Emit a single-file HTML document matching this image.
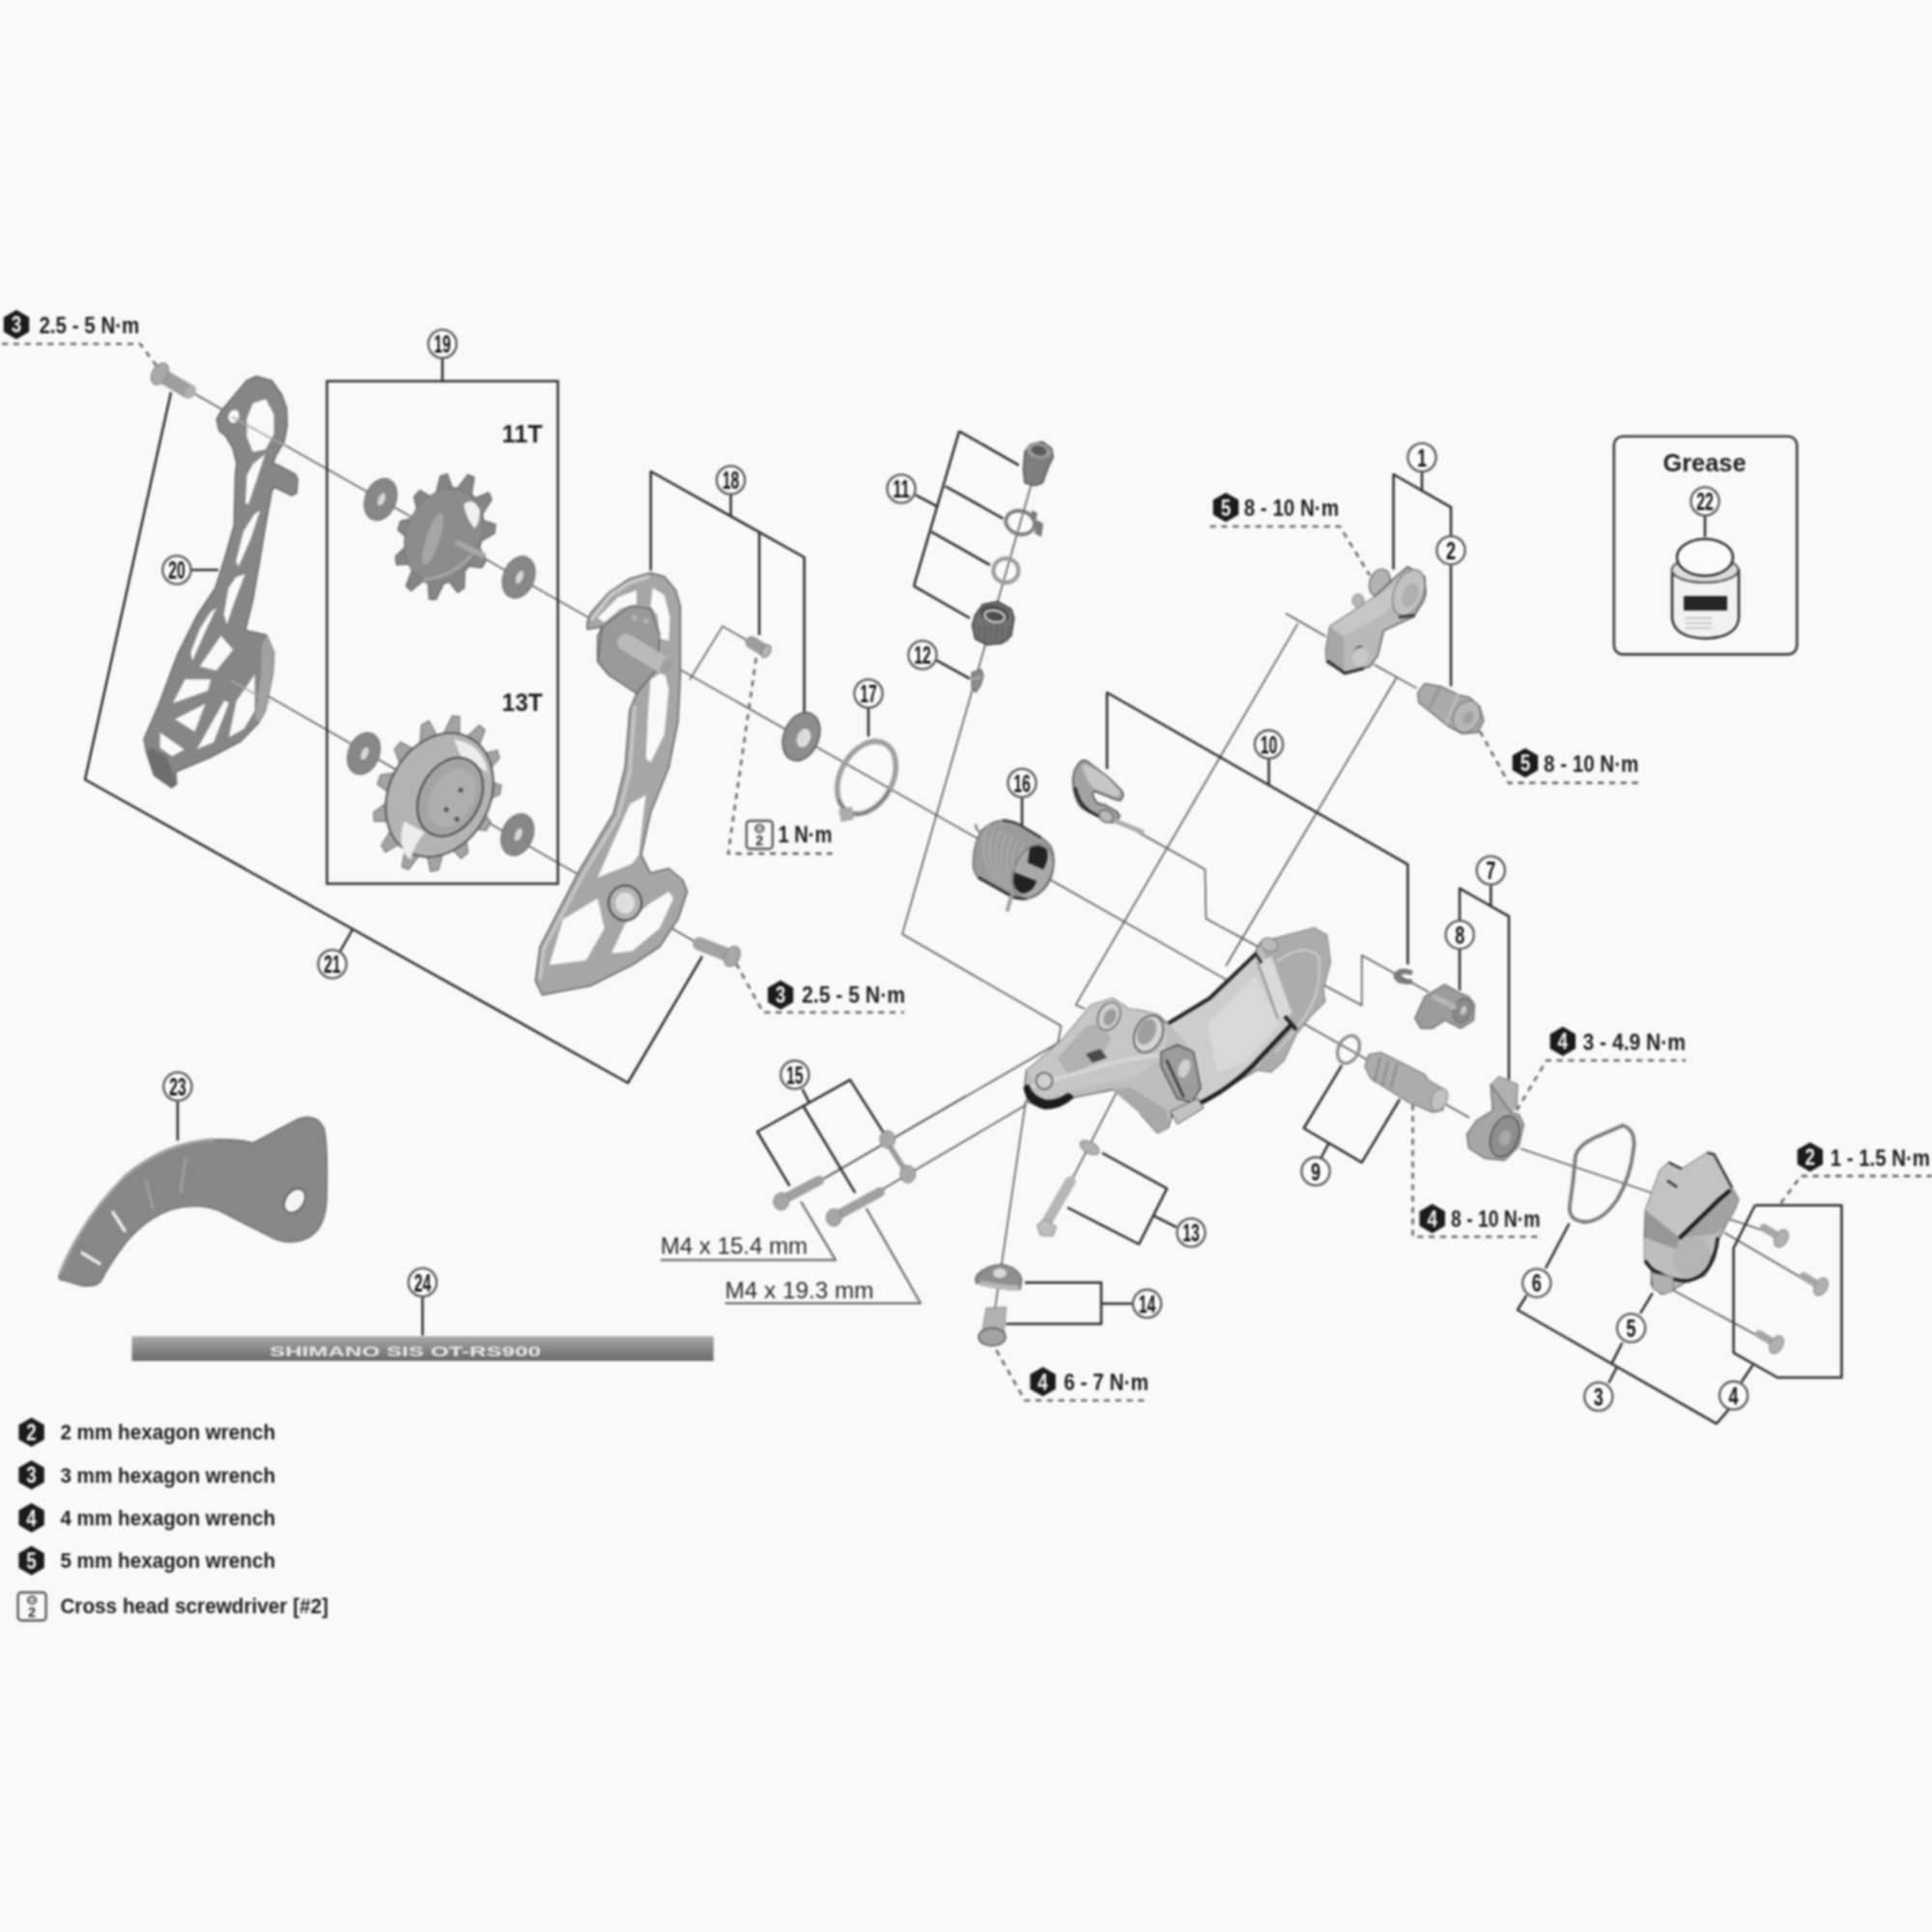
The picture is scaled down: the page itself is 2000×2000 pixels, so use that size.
<!DOCTYPE html>
<html><head><meta charset="utf-8"><title>Rear derailleur exploded view</title>
<style>html,body{margin:0;padding:0;background:#f9f9f9;}svg{display:block;filter:blur(0.8px);}text{font-family:"Liberation Sans",sans-serif;}</style>
</head><body>
<svg width="2000" height="2000" viewBox="0 0 2000 2000">
<rect x="0" y="0" width="2000" height="2000" fill="#f9f9f9"/>
<polyline points="202.0,408.0 1521.0,1157.0" fill="none" stroke="#5a5a5a" stroke-width="1.6" stroke-linejoin="round" />
<polyline points="1574.0,1189.0 1826.0,1274.0" fill="none" stroke="#5a5a5a" stroke-width="1.6" stroke-linejoin="round" />
<polyline points="1785.0,1276.0 1867.0,1324.0" fill="none" stroke="#5a5a5a" stroke-width="1.6" stroke-linejoin="round" />
<polyline points="1729.0,1334.0 1820.0,1383.0" fill="none" stroke="#5a5a5a" stroke-width="1.6" stroke-linejoin="round" />
<polyline points="240.0,699.0 725.0,978.0" fill="none" stroke="#5a5a5a" stroke-width="1.6" stroke-linejoin="round" />
<polyline points="1068.0,500.0 934.0,967.0 1098.5,1062.0 1095.0,1080.0 851.8,1220.8" fill="none" stroke="#5a5a5a" stroke-width="1.6" stroke-linejoin="round" />
<polyline points="913.4,1231.3 1062.6,1143.5" fill="none" stroke="#5a5a5a" stroke-width="1.6" stroke-linejoin="round" />
<polyline points="1062.0,1139.0 1030.0,1355.0" fill="none" stroke="#5a5a5a" stroke-width="1.6" stroke-linejoin="round" />
<polyline points="1156.0,1130.4 1110.4,1219.6" fill="none" stroke="#5a5a5a" stroke-width="1.6" stroke-linejoin="round" />
<polyline points="714.0,703.7 748.0,648.4 773.7,663.0" fill="none" stroke="#5a5a5a" stroke-width="1.6" stroke-linejoin="round" />
<polyline points="1163.0,853.0 1247.4,900.0 1248.5,951.0 1306.0,982.0" fill="none" stroke="#5a5a5a" stroke-width="1.6" stroke-linejoin="round" />
<polyline points="1369.0,1019.0 1409.7,1040.8 1409.7,989.0 1479.0,1027.0" fill="none" stroke="#5a5a5a" stroke-width="1.6" stroke-linejoin="round" />
<polyline points="1331.0,635.0 1372.5,658.8" fill="none" stroke="#5a5a5a" stroke-width="1.6" stroke-linejoin="round" />
<polyline points="1343.6,645.3 1113.7,1040.2 1123.5,1044.6" fill="none" stroke="#5a5a5a" stroke-width="1.6" stroke-linejoin="round" />
<polyline points="1446.0,701.0 1269.0,1000.0" fill="none" stroke="#5a5a5a" stroke-width="1.6" stroke-linejoin="round" />
<polyline points="1422.0,687.8 1466.8,712.6" fill="none" stroke="#5a5a5a" stroke-width="1.6" stroke-linejoin="round" />
<polyline points="851.8,1220.8 1000.0,1134.5" fill="none" stroke="#5a5a5a" stroke-width="1.6" stroke-linejoin="round" />
<polyline points="177.0,406.0 88.0,807.0 650.0,1121.0 727.0,990.0" fill="none" stroke="#2c2c2c" stroke-width="2.5" stroke-linejoin="round" />
<polyline points="197.0,590.0 226.0,590.0" fill="none" stroke="#2c2c2c" stroke-width="2.5" stroke-linejoin="round" />
<polyline points="352.0,985.0 365.0,962.0" fill="none" stroke="#2c2c2c" stroke-width="2.5" stroke-linejoin="round" />
<rect x="338.5" y="394.6" width="239" height="520.2" fill="none" stroke="#383838" stroke-width="2.6"/>
<polyline points="458.0,371.0 458.0,394.6" fill="none" stroke="#2c2c2c" stroke-width="2.5" stroke-linejoin="round" />
<polyline points="673.7,590.5 673.7,488.0 832.6,577.0 832.6,741.7" fill="none" stroke="#2c2c2c" stroke-width="2.5" stroke-linejoin="round" />
<polyline points="786.0,551.0 786.0,657.5" fill="none" stroke="#2c2c2c" stroke-width="2.5" stroke-linejoin="round" />
<polyline points="756.5,511.7 756.5,534.0" fill="none" stroke="#2c2c2c" stroke-width="2.5" stroke-linejoin="round" />
<polyline points="899.0,733.0 899.0,762.5" fill="none" stroke="#2c2c2c" stroke-width="2.5" stroke-linejoin="round" />
<polyline points="993.0,446.3 946.0,606.6" fill="none" stroke="#2c2c2c" stroke-width="2.5" stroke-linejoin="round" />
<polyline points="993.0,446.3 1054.7,481.6" fill="none" stroke="#2c2c2c" stroke-width="2.5" stroke-linejoin="round" />
<polyline points="978.6,503.3 1038.4,536.8" fill="none" stroke="#2c2c2c" stroke-width="2.5" stroke-linejoin="round" />
<polyline points="964.0,550.4 1024.8,584.9" fill="none" stroke="#2c2c2c" stroke-width="2.5" stroke-linejoin="round" />
<polyline points="946.0,606.6 1004.0,640.0" fill="none" stroke="#2c2c2c" stroke-width="2.5" stroke-linejoin="round" />
<polyline points="947.8,512.4 970.0,524.2" fill="none" stroke="#2c2c2c" stroke-width="2.5" stroke-linejoin="round" />
<polyline points="969.6,683.6 1004.0,702.6" fill="none" stroke="#2c2c2c" stroke-width="2.5" stroke-linejoin="round" />
<polyline points="1058.0,825.0 1058.0,855.8" fill="none" stroke="#2c2c2c" stroke-width="2.5" stroke-linejoin="round" />
<polyline points="1146.0,796.0 1146.0,717.0 1457.3,894.8 1457.3,998.4" fill="none" stroke="#2c2c2c" stroke-width="2.5" stroke-linejoin="round" />
<polyline points="1313.5,786.0 1313.5,812.0" fill="none" stroke="#2c2c2c" stroke-width="2.5" stroke-linejoin="round" />
<polyline points="1442.5,589.4 1442.5,491.0 1502.0,525.2 1502.0,555.3" fill="none" stroke="#2c2c2c" stroke-width="2.5" stroke-linejoin="round" />
<polyline points="1502.0,585.3 1502.0,710.5" fill="none" stroke="#2c2c2c" stroke-width="2.5" stroke-linejoin="round" />
<polyline points="1472.0,489.0 1472.0,507.6" fill="none" stroke="#2c2c2c" stroke-width="2.5" stroke-linejoin="round" />
<polyline points="1511.0,1025.3 1511.0,982.8" fill="none" stroke="#2c2c2c" stroke-width="2.5" stroke-linejoin="round" />
<polyline points="1511.0,952.8 1511.0,919.7 1562.0,948.7 1562.0,1117.4" fill="none" stroke="#2c2c2c" stroke-width="2.5" stroke-linejoin="round" />
<polyline points="1543.3,916.6 1543.3,937.0" fill="none" stroke="#2c2c2c" stroke-width="2.5" stroke-linejoin="round" />
<polyline points="1389.0,1102.9 1349.7,1168.0 1409.7,1203.3 1449.0,1138.0" fill="none" stroke="#2c2c2c" stroke-width="2.5" stroke-linejoin="round" />
<polyline points="1375.5,1183.7 1367.3,1199.0" fill="none" stroke="#2c2c2c" stroke-width="2.5" stroke-linejoin="round" />
<polyline points="1580.3,1341.0 1571.0,1356.0 1777.0,1473.8 1790.0,1458.6" fill="none" stroke="#2c2c2c" stroke-width="2.5" stroke-linejoin="round" />
<polyline points="1600.0,1313.0 1624.5,1266.5" fill="none" stroke="#2c2c2c" stroke-width="2.5" stroke-linejoin="round" />
<polyline points="1698.0,1359.6 1710.7,1338.7" fill="none" stroke="#2c2c2c" stroke-width="2.5" stroke-linejoin="round" />
<polyline points="1679.3,1390.0 1668.8,1410.9" fill="none" stroke="#2c2c2c" stroke-width="2.5" stroke-linejoin="round" />
<polyline points="1665.3,1431.8 1673.4,1416.0" fill="none" stroke="#2c2c2c" stroke-width="2.5" stroke-linejoin="round" />
<polyline points="1802.7,1430.7 1814.4,1413.2" fill="none" stroke="#2c2c2c" stroke-width="2.5" stroke-linejoin="round" />
<polyline points="1816.7,1247.8 1906.4,1247.8 1906.4,1426.0 1840.0,1426.0 1794.6,1400.4 1794.6,1292.0 1816.7,1247.8" fill="none" stroke="#2c2c2c" stroke-width="2.5" stroke-linejoin="round" />
<polyline points="1140.9,1193.5 1208.0,1230.4 1179.0,1288.0 1105.0,1250.0" fill="none" stroke="#2c2c2c" stroke-width="2.5" stroke-linejoin="round" />
<polyline points="1194.5,1258.7 1217.8,1270.4" fill="none" stroke="#2c2c2c" stroke-width="2.5" stroke-linejoin="round" />
<polyline points="1061.0,1327.8 1140.0,1327.8 1140.0,1370.5 1041.5,1370.5" fill="none" stroke="#2c2c2c" stroke-width="2.5" stroke-linejoin="round" />
<polyline points="1140.0,1349.6 1172.5,1349.6" fill="none" stroke="#2c2c2c" stroke-width="2.5" stroke-linejoin="round" />
<polyline points="817.5,1227.8 784.0,1171.5 880.0,1117.8 915.2,1173.3" fill="none" stroke="#2c2c2c" stroke-width="2.5" stroke-linejoin="round" />
<polyline points="831.6,1145.0 885.3,1234.9" fill="none" stroke="#2c2c2c" stroke-width="2.5" stroke-linejoin="round" />
<polyline points="830.7,1127.5 837.7,1141.6" fill="none" stroke="#2c2c2c" stroke-width="2.5" stroke-linejoin="round" />
<polyline points="183.9,1140.4 183.9,1180.7" fill="none" stroke="#2c2c2c" stroke-width="2.5" stroke-linejoin="round" />
<polyline points="437.4,1342.5 437.4,1382.6" fill="none" stroke="#2c2c2c" stroke-width="2.5" stroke-linejoin="round" />
<polyline points="1765.0,533.5 1765.0,556.0" fill="none" stroke="#2c2c2c" stroke-width="2.5" stroke-linejoin="round" />
<polyline points="683.8,1304.4 865.0,1304.4 829.0,1243.7" fill="none" stroke="#6a6a6a" stroke-width="2.2" stroke-linejoin="round" />
<polyline points="750.6,1349.2 953.0,1349.2 896.7,1250.7" fill="none" stroke="#6a6a6a" stroke-width="2.2" stroke-linejoin="round" />
<rect x="1670.8" y="451.7" width="189.4" height="225.7" rx="9" fill="none" stroke="#3a3a3a" stroke-width="2.6"/>
<polyline points="2.0,356.0 145.0,356.0 163.0,380.0" fill="none" stroke="#6a6a6a" stroke-width="2.6" stroke-linejoin="round" stroke-dasharray="6.2 5.6"/>
<polyline points="782.8,681.0 753.8,883.6 861.6,883.6" fill="none" stroke="#6a6a6a" stroke-width="2.6" stroke-linejoin="round" stroke-dasharray="6.2 5.6"/>
<polyline points="762.0,997.4 790.0,1048.0 936.0,1048.0" fill="none" stroke="#6a6a6a" stroke-width="2.6" stroke-linejoin="round" stroke-dasharray="6.2 5.6"/>
<polyline points="1252.5,545.0 1387.0,545.0 1418.0,595.6" fill="none" stroke="#6a6a6a" stroke-width="2.6" stroke-linejoin="round" stroke-dasharray="6.2 5.6"/>
<polyline points="1532.0,757.0 1561.7,810.4 1696.0,810.4" fill="none" stroke="#6a6a6a" stroke-width="2.6" stroke-linejoin="round" stroke-dasharray="6.2 5.6"/>
<polyline points="1570.0,1149.5 1601.0,1097.7 1745.0,1097.7" fill="none" stroke="#6a6a6a" stroke-width="2.6" stroke-linejoin="round" stroke-dasharray="6.2 5.6"/>
<polyline points="1462.5,1143.3 1462.5,1280.2 1594.5,1280.2" fill="none" stroke="#6a6a6a" stroke-width="2.6" stroke-linejoin="round" stroke-dasharray="6.2 5.6"/>
<polyline points="1843.5,1245.5 1864.4,1217.4 2000.0,1217.4" fill="none" stroke="#6a6a6a" stroke-width="2.6" stroke-linejoin="round" stroke-dasharray="6.2 5.6"/>
<polyline points="1031.4,1397.7 1061.0,1449.7 1189.0,1449.7" fill="none" stroke="#6a6a6a" stroke-width="2.6" stroke-linejoin="round" stroke-dasharray="6.2 5.6"/>
<line x1="171.0" y1="391.0" x2="195.0" y2="405.0" stroke="#9e9e9e" stroke-width="15.0" stroke-linecap="round"/>
<ellipse cx="197.0" cy="405.5" rx="5.0" ry="7.5" transform="rotate(30.0 197.0 405.5)" fill="#b0b0b0" stroke="none" stroke-width="0" />
<ellipse cx="165.5" cy="387.0" rx="8.0" ry="12.0" transform="rotate(30.0 165.5 387.0)" fill="#a8a8a8" stroke="#8c8c8c" stroke-width="1.2" />
<polygon points="265.6,389.5 281.2,394.0 291.5,408.2 296.7,422.5 297.3,440.6 294.1,457.4 286.3,470.3 282.5,479.4 286.3,480.7 305.7,491.0 308.3,496.2 307.0,510.5 301.9,513.0 283.7,504.0 281.2,509.0 276.0,537.6 269.5,576.5 262.0,620.0 254.0,652.5 276.0,657.6 283.7,675.8 282.5,696.5 274.7,735.3 268.0,748.0 249.0,767.6 216.5,784.5 182.0,799.0 182.8,811.6 177.6,815.5 159.5,802.6 151.8,779.3 149.0,765.0 164.7,728.8 184.0,677.0 203.5,638.0 223.0,608.5 232.0,580.0 242.3,544.0 243.6,492.3 244.9,479.4 241.0,463.9 233.3,451.0 226.8,445.8 224.2,434.0 229.4,425.0 242.3,409.5 255.3,394.0" fill="#868686" stroke="#6c6c6c" stroke-width="1.5" stroke-linejoin="round" />
<polygon points="275.1,413.0 283.6,428.9 283.6,449.2 275.1,465.2 261.7,468.1 255.5,452.2 255.5,433.3 261.7,417.5" fill="#f9f9f9" stroke="none" stroke-width="0" stroke-linejoin="round" />
<polygon points="274.5,470.1 265.0,499.0 257.1,522.2 254.0,520.7 255.6,491.7 261.9,480.2" fill="#f9f9f9" stroke="none" stroke-width="0" stroke-linejoin="round" />
<polygon points="269.3,528.2 259.9,557.1 247.2,586.1 244.1,581.8 252.0,550.0 263.1,532.5" fill="#f9f9f9" stroke="none" stroke-width="0" stroke-linejoin="round" />
<polygon points="253.8,594.3 242.7,623.3 234.9,646.5 231.7,636.3 236.4,608.8 244.3,597.2" fill="#f9f9f9" stroke="none" stroke-width="0" stroke-linejoin="round" />
<polygon points="224.2,629.1 213.2,652.3 199.1,684.2 197.4,675.5 206.9,650.8 218.0,633.4" fill="#f9f9f9" stroke="none" stroke-width="0" stroke-linejoin="round" />
<polygon points="228.7,658.0 241.4,672.5 224.0,694.3 206.7,689.9" fill="#f9f9f9" stroke="none" stroke-width="0" stroke-linejoin="round" />
<polygon points="191.5,703.2 218.3,703.2 215.2,714.9 178.8,727.9" fill="#f9f9f9" stroke="none" stroke-width="0" stroke-linejoin="round" />
<polygon points="181.0,744.4 212.6,728.5 201.6,757.5" fill="#f9f9f9" stroke="none" stroke-width="0" stroke-linejoin="round" />
<polygon points="165.6,758.3 190.8,775.7 178.2,783.0 165.6,774.3" fill="#f9f9f9" stroke="none" stroke-width="0" stroke-linejoin="round" />
<polygon points="232.3,724.9 203.8,775.6 221.2,768.4 237.0,727.8" fill="#f9f9f9" stroke="none" stroke-width="0" stroke-linejoin="round" />
<polygon points="263.8,698.1 263.8,735.8 252.6,754.6 236.9,763.3 244.7,725.6 255.8,709.7" fill="#f9f9f9" stroke="none" stroke-width="0" stroke-linejoin="round" />
<ellipse cx="242.0" cy="431.0" rx="5.5" ry="7.0" transform="rotate(20.0 242.0 431.0)" fill="#f9f9f9" stroke="none" stroke-width="0" />
<polygon points="276.0,657.6 283.7,675.8 282.5,696.5 274.7,735.3 268.0,748.0 264.0,744.0 270.0,700.0 271.0,668.0" fill="#a2a2a2" stroke="none" stroke-width="0" stroke-linejoin="round" />
<line x1="241.0" y1="432.0" x2="296.0" y2="462.0" stroke="#a9a9a9" stroke-width="1.8" stroke-linecap="round"/>
<line x1="240.0" y1="705.0" x2="279.0" y2="727.0" stroke="#a9a9a9" stroke-width="1.8" stroke-linecap="round"/>
<polygon points="151.8,779.3 157.0,774.1 172.5,783.2 182.8,811.6 177.6,815.5 159.5,802.6" fill="#6e6e6e" stroke="none" stroke-width="0" stroke-linejoin="round" />
<ellipse cx="394.0" cy="517.0" rx="16.0" ry="22.5" transform="rotate(22.0 394.0 517.0)" fill="#878787" stroke="#6f6f6f" stroke-width="1" />
<ellipse cx="395.0" cy="517.0" rx="3.5" ry="7.0" transform="rotate(22.0 395.0 517.0)" fill="#d6d6d6" stroke="none" stroke-width="0" />
<ellipse cx="537.0" cy="597.5" rx="16.0" ry="22.5" transform="rotate(22.0 537.0 597.5)" fill="#878787" stroke="#6f6f6f" stroke-width="1" />
<ellipse cx="538.0" cy="597.5" rx="3.5" ry="7.0" transform="rotate(22.0 538.0 597.5)" fill="#d6d6d6" stroke="none" stroke-width="0" />
<ellipse cx="376.6" cy="780.0" rx="16.0" ry="22.5" transform="rotate(22.0 376.6 780.0)" fill="#878787" stroke="#6f6f6f" stroke-width="1" />
<ellipse cx="377.6" cy="780.0" rx="3.5" ry="7.0" transform="rotate(22.0 377.6 780.0)" fill="#d6d6d6" stroke="none" stroke-width="0" />
<ellipse cx="535.7" cy="864.0" rx="16.0" ry="22.5" transform="rotate(22.0 535.7 864.0)" fill="#878787" stroke="#6f6f6f" stroke-width="1" />
<ellipse cx="536.7" cy="864.0" rx="3.5" ry="7.0" transform="rotate(22.0 536.7 864.0)" fill="#d6d6d6" stroke="none" stroke-width="0" />
<polygon points="503.6,579.5 498.9,588.0 485.8,586.1 481.2,591.4 480.7,608.6 473.6,613.4 465.1,602.5 459.4,604.3 451.5,620.6 444.3,620.4 443.0,603.8 438.2,601.6 425.4,611.8 420.3,606.5 426.7,589.6 424.2,584.0 410.5,585.0 409.2,576.3 421.2,564.4 421.9,557.3 411.7,548.6 414.6,539.4 428.4,536.2 432.0,529.8 428.5,514.3 434.6,507.4 445.9,514.0 451.3,510.3 455.7,492.9 463.1,490.5 468.2,504.8 473.7,505.0 484.5,491.2 490.9,494.1 488.3,511.6 492.1,515.6 505.9,509.8 509.2,517.0 499.6,532.1 500.6,538.7 513.0,542.7 512.2,552.0 498.7,559.9 496.5,566.9" fill="#858585" stroke="#6a6a6a" stroke-width="1.2" stroke-linejoin="round" />
<ellipse cx="459.0" cy="554.0" rx="38.0" ry="50.0" transform="rotate(25.0 459.0 554.0)" fill="#8c8c8c" stroke="#787878" stroke-width="1" />
<ellipse cx="448.0" cy="558.0" rx="7.0" ry="28.0" transform="rotate(18.0 448.0 558.0)" fill="#a6a6a6" stroke="none" stroke-width="0" />
<path d="M480,522 Q490,514 497,528 Q497,542 491,547 Q482,536 480,522 Z" fill="#f0f0f0" stroke="none" stroke-width="0" stroke-linejoin="round" />
<path d="M438,600 Q470,598 492,570" fill="none" stroke="#a4a4a4" stroke-width="3" stroke-linejoin="round" />
<line x1="474.0" y1="562.0" x2="500.0" y2="575.0" stroke="#a6a6a6" stroke-width="6.0" stroke-linecap="round"/>
<polygon points="508.0,851.1 503.2,860.0 487.0,857.3 482.2,863.1 484.5,882.8 477.3,888.8 465.7,876.7 459.7,879.7 453.8,900.6 445.8,902.3 441.5,883.6 435.7,883.1 422.9,900.3 416.0,897.4 420.0,876.3 415.6,872.5 398.9,882.2 394.7,875.2 406.0,856.7 404.1,850.3 387.3,850.2 386.7,840.9 402.8,829.1 403.8,821.6 390.7,811.8 393.9,802.2 411.1,799.8 414.8,793.1 408.4,775.7 414.7,768.1 429.0,775.7 434.5,771.1 436.3,750.2 444.2,746.3 452.4,762.1 458.5,760.8 468.1,741.2 475.7,741.9 475.9,762.3 481.2,764.6 496.3,750.7 502.1,755.8 494.2,776.2 497.4,781.4 514.7,776.5 517.1,784.9 503.0,800.5 503.5,807.6 518.9,812.7 517.5,822.5 500.4,829.8 498.0,837.1" fill="#a3a3a3" stroke="#7a7a7a" stroke-width="1.2" stroke-linejoin="round" />
<ellipse cx="455.0" cy="823.0" rx="52.0" ry="67.0" transform="rotate(28.0 455.0 823.0)" fill="#b3b3b3" stroke="#5a5a5a" stroke-width="2" />
<path d="M470,765 Q500,770 505,800 Q490,790 478,786 Z" fill="#ececec" stroke="none" stroke-width="0" stroke-linejoin="round" />
<path d="M418,850 Q410,880 425,890 Q430,872 440,862 Z" fill="#ececec" stroke="none" stroke-width="0" stroke-linejoin="round" />
<ellipse cx="466.0" cy="825.0" rx="31.0" ry="43.0" transform="rotate(28.0 466.0 825.0)" fill="#a4a4a4" stroke="#4e4e4e" stroke-width="2" />
<ellipse cx="468.0" cy="826.0" rx="22.0" ry="32.0" transform="rotate(28.0 468.0 826.0)" fill="#afafaf" stroke="none" stroke-width="0" />
<ellipse cx="477.0" cy="818.0" rx="2.5" ry="2.5" transform="rotate(0.0 477.0 818.0)" fill="#555" stroke="none" stroke-width="0" />
<ellipse cx="462.0" cy="838.0" rx="2.5" ry="2.5" transform="rotate(0.0 462.0 838.0)" fill="#555" stroke="none" stroke-width="0" />
<ellipse cx="473.0" cy="848.0" rx="2.5" ry="2.5" transform="rotate(0.0 473.0 848.0)" fill="#555" stroke="none" stroke-width="0" />
<polygon points="607.9,644.3 611.4,634.8 630.5,613.3 651.9,599.0 673.3,593.1 687.6,596.7 699.5,611.0 704.3,627.6 704.3,699.0 701.9,746.7 692.4,794.3 673.3,842.0 663.8,884.8 673.3,903.8 692.4,899.0 706.7,911.0 711.4,922.9 701.9,951.4 682.9,980.0 654.3,999.0 611.4,1020.5 561.4,1030.0 554.3,1015.7 559.0,980.0 599.5,901.4 635.2,841.9 647.1,794.3 651.9,734.8 659.0,718.0 651.9,711.0 630.5,699.0 618.6,684.8 618.6,658.6 623.3,649.0 607.9,651.4" fill="#a6a6a6" stroke="#6a6a6a" stroke-width="1.6" stroke-linejoin="round" />
<polygon points="675.7,608.6 687.6,615.7 693.6,639.5 692.4,663.3 682.9,661.0 680.5,637.0 673.3,627.6" fill="#f9f9f9" stroke="none" stroke-width="0" stroke-linejoin="round" />
<polygon points="618.6,639.5 640.0,618.0 659.0,611.0 659.0,625.2 642.4,630.0 625.7,644.3" fill="#f9f9f9" stroke="none" stroke-width="0" stroke-linejoin="round" />
<polygon points="673.3,703.8 687.6,694.3 692.4,713.3 687.6,761.0 673.3,789.5 668.6,784.8 671.0,734.8" fill="#f9f9f9" stroke="none" stroke-width="0" stroke-linejoin="round" />
<polygon points="668.6,822.9 651.9,832.4 618.6,908.6 654.3,894.3 661.4,884.8 666.2,842.0" fill="#f9f9f9" stroke="none" stroke-width="0" stroke-linejoin="round" />
<polygon points="618.6,930.0 582.9,951.4 568.6,999.0 606.7,994.3 625.7,961.0" fill="#f9f9f9" stroke="none" stroke-width="0" stroke-linejoin="round" />
<polygon points="692.4,922.9 697.1,930.0 682.9,961.0 654.3,984.8 632.9,987.1 647.1,956.2 673.3,934.8" fill="#f9f9f9" stroke="none" stroke-width="0" stroke-linejoin="round" />
<polyline points="612.0,642.0 632.0,616.0 652.0,603.0 672.0,597.0" fill="none" stroke="#c9c9c9" stroke-width="4" stroke-linejoin="round" />
<polyline points="657.0,730.0 652.0,800.0 640.0,845.0 604.0,905.0 563.0,982.0 559.0,1014.0" fill="none" stroke="#c4c4c4" stroke-width="4" stroke-linejoin="round" />
<polygon points="623.3,649.0 651.9,627.6 673.3,630.0 682.9,656.2 680.5,691.9 659.0,718.0 630.5,699.0 618.6,684.8" fill="#999999" stroke="#5e5e5e" stroke-width="1.2" stroke-linejoin="round" />
<ellipse cx="656.7" cy="639.5" rx="3.0" ry="3.0" transform="rotate(0.0 656.7 639.5)" fill="#b5b5b5" stroke="none" stroke-width="0" />
<ellipse cx="668.6" cy="643.0" rx="3.0" ry="3.0" transform="rotate(0.0 668.6 643.0)" fill="#b5b5b5" stroke="none" stroke-width="0" />
<line x1="648.0" y1="665.0" x2="688.0" y2="689.0" stroke="#bababa" stroke-width="18.0" stroke-linecap="round"/>
<ellipse cx="690.0" cy="690.0" rx="6.0" ry="9.0" transform="rotate(30.0 690.0 690.0)" fill="#a0a0a0" stroke="none" stroke-width="0" />
<ellipse cx="647.1" cy="934.8" rx="17.0" ry="18.0" transform="rotate(0.0 647.1 934.8)" fill="#b3b3b3" stroke="#4e4e4e" stroke-width="2" />
<ellipse cx="647.1" cy="934.8" rx="10.0" ry="11.0" transform="rotate(0.0 647.1 934.8)" fill="#dedede" stroke="none" stroke-width="0" />
<line x1="778.0" y1="665.0" x2="791.0" y2="673.0" stroke="#9d9d9d" stroke-width="13.0" stroke-linecap="round"/>
<ellipse cx="793.0" cy="674.0" rx="4.5" ry="7.0" transform="rotate(30.0 793.0 674.0)" fill="#b4b4b4" stroke="#777" stroke-width="1" />
<ellipse cx="829.5" cy="762.5" rx="18.0" ry="26.0" transform="rotate(22.0 829.5 762.5)" fill="#8d8d8d" stroke="#5a5a5a" stroke-width="1.5" />
<ellipse cx="832.0" cy="764.0" rx="7.0" ry="10.0" transform="rotate(22.0 832.0 764.0)" fill="#dcdcdc" stroke="none" stroke-width="0" />
<ellipse cx="897.0" cy="805.0" rx="27.0" ry="40.0" transform="rotate(28.0 897.0 805.0)" fill="none" stroke="#a0a0a0" stroke-width="5.5" />
<ellipse cx="897.0" cy="805.0" rx="27.0" ry="40.0" transform="rotate(28.0 897.0 805.0)" fill="none" stroke="#5a5a5a" stroke-width="1.2" stroke-dasharray="70 200"/>
<polygon points="868.0,838.0 882.0,835.0 884.0,848.0 871.0,851.0" fill="#aaaaaa" stroke="none" stroke-width="0" stroke-linejoin="round" />
<line x1="724.0" y1="977.0" x2="752.0" y2="988.0" stroke="#a2a2a2" stroke-width="14.0" stroke-linecap="round"/>
<ellipse cx="758.0" cy="990.0" rx="7.5" ry="11.0" transform="rotate(25.0 758.0 990.0)" fill="#a8a8a8" stroke="#888" stroke-width="1.2" />
<polygon points="1060.8,467.3 1067.0,459.5 1079.4,457.2 1088.7,464.2 1090.3,473.5 1085.6,482.8 1079.4,499.9 1071.6,503.0 1060.8,499.9 1059.2,485.9" fill="#7e7e7e" stroke="#4a4a4a" stroke-width="1.2" stroke-linejoin="round" />
<ellipse cx="1075.5" cy="466.5" rx="13.0" ry="8.0" transform="rotate(12.0 1075.5 466.5)" fill="#9c9c9c" stroke="none" stroke-width="0" />
<ellipse cx="1075.5" cy="466.5" rx="8.0" ry="5.0" transform="rotate(12.0 1075.5 466.5)" fill="#5a5a5a" stroke="none" stroke-width="0" />
<ellipse cx="1056.1" cy="541.0" rx="15.0" ry="12.0" transform="rotate(15.0 1056.1 541.0)" fill="none" stroke="#7e7e7e" stroke-width="3.8" />
<polygon points="1068.0,528.0 1074.0,531.0 1072.0,540.0 1067.0,537.0" fill="#7a7a7a" stroke="none" stroke-width="0" stroke-linejoin="round" />
<polygon points="1073.0,538.0 1080.0,542.0 1078.0,556.0 1071.0,552.0" fill="#7a7a7a" stroke="none" stroke-width="0" stroke-linejoin="round" />
<ellipse cx="1041.3" cy="590.7" rx="13.0" ry="12.5" transform="rotate(0.0 1041.3 590.7)" fill="none" stroke="#9c9c9c" stroke-width="4.2" />
<polygon points="1009.5,636.6 1017.3,625.7 1032.8,622.6 1046.8,630.3 1049.9,639.7 1046.8,658.3 1037.5,666.0 1021.9,667.6 1009.5,661.4 1006.4,647.4" fill="#727272" stroke="#3a3a3a" stroke-width="1.4" stroke-linejoin="round" />
<line x1="1014.0" y1="648.0" x2="1013.0" y2="664.0" stroke="#5a5a5a" stroke-width="1.2" stroke-linecap="round"/>
<line x1="1020.0" y1="648.0" x2="1019.0" y2="664.0" stroke="#5a5a5a" stroke-width="1.2" stroke-linecap="round"/>
<line x1="1026.0" y1="648.0" x2="1025.0" y2="664.0" stroke="#5a5a5a" stroke-width="1.2" stroke-linecap="round"/>
<line x1="1032.0" y1="648.0" x2="1031.0" y2="664.0" stroke="#5a5a5a" stroke-width="1.2" stroke-linecap="round"/>
<line x1="1038.0" y1="648.0" x2="1037.0" y2="664.0" stroke="#5a5a5a" stroke-width="1.2" stroke-linecap="round"/>
<line x1="1044.0" y1="648.0" x2="1043.0" y2="664.0" stroke="#5a5a5a" stroke-width="1.2" stroke-linecap="round"/>
<ellipse cx="1029.7" cy="636.0" rx="15.0" ry="9.5" transform="rotate(10.0 1029.7 636.0)" fill="#4e4e4e" stroke="none" stroke-width="0" />
<ellipse cx="1029.7" cy="638.0" rx="10.5" ry="6.0" transform="rotate(10.0 1029.7 638.0)" fill="none" stroke="#cfcfcf" stroke-width="2.2" />
<polygon points="1006.0,696.0 1016.0,693.0 1018.0,700.0 1015.0,710.0 1010.0,717.0 1006.0,712.0" fill="#8a8a8a" stroke="#555" stroke-width="1" stroke-linejoin="round" />
<line x1="1007.0" y1="703.0" x2="1016.0" y2="701.0" stroke="#bbbbbb" stroke-width="1.5" stroke-linecap="round"/>
<path d="M1038,849 Q1048,850 1056,854 L1077.8,867.1 Q1086,872 1088.7,878 Q1092,886 1090.9,896 Q1090,910 1081.4,920 Q1072,930 1063.3,930.1 Q1055,931 1048.8,928.7 L1012.6,908.4 Q1006,902 1007.5,890 Q1008,872 1016,860 Q1025,850 1038,849 Z" fill="#9b9b9b" stroke="#5a5a5a" stroke-width="1.2" stroke-linejoin="round" />
<path d="M1012.6,908.4 L1048.8,928.7 Q1055,931 1063.3,930.1" fill="none" stroke="#2e2e2e" stroke-width="3" stroke-linejoin="round" />
<path d="M1038,849 Q1048,850 1056,854 L1077.8,867.1" fill="none" stroke="#3a3a3a" stroke-width="2.5" stroke-linejoin="round" />
<path d="M1024.0,853.0 Q1010.0,882.0 1030.0,912.0" fill="none" stroke="#b3b3b3" stroke-width="1.3" stroke-linejoin="round" />
<path d="M1030.0,856.3 Q1016.0,885.0 1036.0,915.3" fill="none" stroke="#b3b3b3" stroke-width="1.3" stroke-linejoin="round" />
<path d="M1036.0,859.6 Q1022.0,888.0 1042.0,918.6" fill="none" stroke="#b3b3b3" stroke-width="1.3" stroke-linejoin="round" />
<path d="M1042.0,862.9 Q1028.0,891.0 1048.0,921.9" fill="none" stroke="#b3b3b3" stroke-width="1.3" stroke-linejoin="round" />
<path d="M1048.0,866.2 Q1034.0,894.0 1054.0,925.2" fill="none" stroke="#b3b3b3" stroke-width="1.3" stroke-linejoin="round" />
<path d="M1054.0,869.5 Q1040.0,897.0 1060.0,928.5" fill="none" stroke="#b3b3b3" stroke-width="1.3" stroke-linejoin="round" />
<path d="M1060.0,872.8 Q1046.0,900.0 1066.0,931.8" fill="none" stroke="#b3b3b3" stroke-width="1.3" stroke-linejoin="round" />
<ellipse cx="1069.1" cy="901.9" rx="19.0" ry="29.0" transform="rotate(25.0 1069.1 901.9)" fill="#a9a9a9" stroke="#7a7a7a" stroke-width="1.5" />
<path d="M1066,878 Q1076,872 1084,880 Q1086,890 1080,900 L1064,893 Z" fill="#222" stroke="none" stroke-width="0" stroke-linejoin="round" />
<path d="M1050,903 L1073,912 Q1070,924 1058,925 Q1050,922 1049,912 Z" fill="#222" stroke="none" stroke-width="0" stroke-linejoin="round" />
<line x1="1047.0" y1="928.0" x2="1043.0" y2="942.0" stroke="#a0a0a0" stroke-width="4.0" stroke-linecap="round"/>
<path d="M1016,862 Q1010,860 1010,853" fill="none" stroke="#888" stroke-width="2.5" stroke-linejoin="round" />
<path d="M1122.5,787 Q1127,788 1129.9,791.6 L1147,804.2 L1161.2,818.4 Q1165,824 1159.5,828.7 Q1153,828 1147,824.7 L1132.7,819 Q1129,822 1135.6,831 Q1140,833 1143,832.6 L1156,840 L1159.5,845.2 L1152.6,851.4 Q1148,853 1136.7,845.2 L1127,840.6 Q1118,836 1116.8,832.6 Q1111,824 1110.5,807 Q1112,796 1114.5,793.9 Q1118,787 1122.5,787 Z" fill="#a2a2a2" stroke="#4a4a4a" stroke-width="1.4" stroke-linejoin="round" />
<path d="M1120,792 Q1128,790 1147,805 L1160,819 Q1160,826 1152,824 L1132,816 Q1124,808 1120,792 Z" fill="#c6c6c6" stroke="none" stroke-width="0" stroke-linejoin="round" />
<path d="M1113,815 Q1116,832 1128,840 L1137,845" fill="none" stroke="#262626" stroke-width="3" stroke-linejoin="round" />
<line x1="1150.0" y1="848.0" x2="1182.0" y2="861.0" stroke="#adadad" stroke-width="5.0" stroke-linecap="round"/>
<ellipse cx="1145.0" cy="845.0" rx="8.0" ry="6.0" transform="rotate(30.0 1145.0 845.0)" fill="#b9b9b9" stroke="#555" stroke-width="1.2" />
<ellipse cx="1428.3" cy="603.1" rx="10.4" ry="14.5" transform="rotate(20.0 1428.3 603.1)" fill="#b2b2b2" stroke="#6a6a6a" stroke-width="1.2" />
<polygon points="1376.6,648.7 1422.0,618.6 1444.9,597.0 1457.3,586.6 1474.9,597.0 1476.0,615.0 1473.8,621.8 1463.5,638.3 1432.5,652.8 1426.2,678.7 1418.0,690.0 1393.1,697.3 1373.5,685.9 1372.4,673.5" fill="#b9b9b9" stroke="#555" stroke-width="1.4" stroke-linejoin="round" />
<polygon points="1376.6,648.7 1391.0,659.0 1391.0,697.3 1373.5,686.0 1372.4,673.5" fill="#a6a6a6" stroke="none" stroke-width="0" stroke-linejoin="round" />
<polygon points="1391.0,659.0 1432.5,636.0 1448.0,620.0 1445.0,605.0 1422.0,618.6 1376.6,648.7" fill="#c6c6c6" stroke="none" stroke-width="0" stroke-linejoin="round" />
<ellipse cx="1458.3" cy="613.5" rx="15.0" ry="25.0" transform="rotate(22.0 1458.3 613.5)" fill="#c2c2c2" stroke="#777" stroke-width="1.2" />
<ellipse cx="1460.0" cy="616.0" rx="8.0" ry="13.0" transform="rotate(22.0 1460.0 616.0)" fill="#b0b0b0" stroke="none" stroke-width="0" />
<ellipse cx="1406.0" cy="677.0" rx="5.0" ry="9.0" transform="rotate(20.0 1406.0 677.0)" fill="#5a5a5a" stroke="none" stroke-width="0" />
<ellipse cx="1408.0" cy="680.0" rx="8.0" ry="10.0" transform="rotate(22.0 1408.0 680.0)" fill="#c8c8c8" stroke="none" stroke-width="0" />
<ellipse cx="1405.9" cy="621.8" rx="6.0" ry="7.0" transform="rotate(0.0 1405.9 621.8)" fill="#b4b4b4" stroke="#888" stroke-width="1" />
<polyline points="1374.0,684.0 1392.0,697.0 1412.0,692.0" fill="none" stroke="#2e2e2e" stroke-width="3" stroke-linejoin="round" />
<polyline points="1448.0,639.0 1465.0,637.0" fill="none" stroke="#3a3a3a" stroke-width="3" stroke-linejoin="round" />
<polygon points="1467.6,717.0 1474.9,707.6 1492.5,710.8 1509.0,719.0 1521.5,722.1 1531.8,731.5 1536.0,746.0 1529.7,758.4 1513.2,759.4 1499.7,752.2 1479.0,735.6 1468.7,727.3" fill="#aaaaaa" stroke="#5e5e5e" stroke-width="1.2" stroke-linejoin="round" />
<line x1="1490.0" y1="712.0" x2="1480.0" y2="733.0" stroke="#8e8e8e" stroke-width="2.0" stroke-linecap="round"/>
<line x1="1509.0" y1="720.0" x2="1497.0" y2="748.0" stroke="#bcbcbc" stroke-width="3.0" stroke-linecap="round"/>
<ellipse cx="1518.4" cy="741.8" rx="13.5" ry="17.0" transform="rotate(25.0 1518.4 741.8)" fill="#b7b7b7" stroke="#7a7a7a" stroke-width="1.2" />
<ellipse cx="1520.0" cy="743.0" rx="5.0" ry="7.0" transform="rotate(25.0 1520.0 743.0)" fill="#a0a0a0" stroke="none" stroke-width="0" />
<polygon points="1060.5,1126.3 1062.4,1107.7 1068.0,1104.0 1101.5,1074.2 1129.4,1040.6 1151.8,1033.2 1168.6,1044.3 1181.6,1046.2 1198.4,1050.0 1207.7,1059.0 1252.4,1033.2 1299.0,986.6 1304.6,975.4 1360.5,960.5 1373.5,968.0 1377.3,996.0 1369.8,1023.9 1371.7,1036.9 1356.8,1051.8 1341.9,1070.4 1328.8,1098.4 1315.8,1109.6 1300.9,1107.7 1263.6,1130.0 1213.3,1154.3 1209.6,1167.3 1198.4,1173.0 1181.6,1154.3 1170.4,1137.5 1151.8,1128.2 1105.2,1137.5 1082.9,1146.8 1064.2,1141.2" fill="#bdbdbd" stroke="#555" stroke-width="1.2" stroke-linejoin="round" />
<polygon points="1304.6,975.4 1360.5,960.5 1373.5,968.0 1377.3,996.0 1369.8,1023.9 1371.7,1036.9 1356.8,1051.8 1341.9,1070.4 1328.8,1098.4 1315.8,1109.6 1300.9,1107.7 1312.0,1089.0 1338.0,1059.3 1310.0,992.0" fill="#acacac" stroke="none" stroke-width="0" stroke-linejoin="round" />
<path d="M1322,995 Q1350,975 1365,990 Q1370,1030 1345,1060 Q1330,1080 1320,1090" fill="none" stroke="#cfcfcf" stroke-width="2" stroke-linejoin="round" />
<polygon points="1209.6,1059.3 1252.4,1033.2 1299.0,988.4 1338.0,1059.3 1304.6,1094.7 1263.6,1130.0 1213.3,1154.3 1243.0,1126.3 1235.7,1089.0" fill="#cdcdcd" stroke="none" stroke-width="0" stroke-linejoin="round" />
<polygon points="1250.0,1060.0 1300.0,1010.0 1325.0,1060.0 1290.0,1100.0 1260.0,1110.0" fill="#d8d8d8" stroke="none" stroke-width="0" stroke-linejoin="round" />
<line x1="1309.0" y1="993.0" x2="1330.0" y2="1052.0" stroke="#d9d9d9" stroke-width="16.0" stroke-linecap="butt"/>
<line x1="1302.0" y1="996.0" x2="1323.0" y2="1055.0" stroke="#8f8f8f" stroke-width="2.0" stroke-linecap="butt"/>
<ellipse cx="1314.0" cy="978.0" rx="9.0" ry="7.0" transform="rotate(20.0 1314.0 978.0)" fill="#bbbbbb" stroke="#777" stroke-width="1" />
<polyline points="1209.6,1059.3 1252.4,1033.2 1299.0,988.4" fill="none" stroke="#262626" stroke-width="4" stroke-linejoin="round" />
<path d="M1213,1155 Q1240,1145 1263.6,1130 Q1290,1112 1304.6,1094.7 L1338,1059.3" fill="none" stroke="#222" stroke-width="4.5" stroke-linejoin="round" />
<polyline points="1299.0,986.0 1306.0,997.0" fill="none" stroke="#333" stroke-width="3" stroke-linejoin="round" />
<polyline points="1330.0,1052.0 1342.0,1066.0" fill="none" stroke="#222" stroke-width="4" stroke-linejoin="round" />
<polygon points="1062.4,1107.7 1068.0,1104.0 1101.5,1074.2 1129.4,1040.6 1151.8,1033.2 1168.6,1044.3 1181.6,1046.2 1198.4,1050.0 1207.7,1061.0 1207.7,1079.8 1202.0,1096.5 1170.4,1118.0 1151.8,1120.0 1105.2,1130.0 1080.0,1138.0" fill="#c6c6c6" stroke="none" stroke-width="0" stroke-linejoin="round" />
<polygon points="1095.0,1095.0 1125.0,1062.0 1140.0,1060.0 1150.0,1075.0 1138.0,1098.0 1106.0,1114.0" fill="#b1b1b1" stroke="none" stroke-width="0" stroke-linejoin="round" />
<polygon points="1124.0,1091.0 1139.0,1086.0 1146.0,1095.0 1131.0,1100.0" fill="#4a4a4a" stroke="none" stroke-width="0" stroke-linejoin="round" />
<ellipse cx="1148.0" cy="1052.0" rx="11.0" ry="15.0" transform="rotate(25.0 1148.0 1052.0)" fill="#cdcdcd" stroke="#6a6a6a" stroke-width="1.4" />
<ellipse cx="1149.0" cy="1053.0" rx="6.0" ry="9.0" transform="rotate(25.0 1149.0 1053.0)" fill="#9c9c9c" stroke="none" stroke-width="0" />
<polyline points="1068.0,1125.0 1110.0,1112.0 1160.0,1098.0 1200.0,1092.0" fill="none" stroke="#d6d6d6" stroke-width="4" stroke-linejoin="round" />
<ellipse cx="1189.0" cy="1070.4" rx="14.0" ry="20.0" transform="rotate(25.0 1189.0 1070.4)" fill="#d4d4d4" stroke="#6a6a6a" stroke-width="2" />
<ellipse cx="1187.0" cy="1068.0" rx="9.0" ry="14.0" transform="rotate(25.0 1187.0 1068.0)" fill="#9e9e9e" stroke="none" stroke-width="0" />
<ellipse cx="1081.0" cy="1118.9" rx="8.5" ry="8.5" transform="rotate(0.0 1081.0 1118.9)" fill="#cfcfcf" stroke="#555" stroke-width="1.5" />
<path d="M1061,1126 Q1064,1143 1082,1147 Q1098,1147 1110,1136 L1106,1133 Q1094,1141 1082,1140 Q1068,1136 1064,1124 Z" fill="#1c1c1c" stroke="#1c1c1c" stroke-width="3" stroke-linejoin="round" />
<polygon points="1151.8,1128.2 1170.4,1126.3 1207.7,1148.7 1209.6,1167.3 1198.4,1173.0 1181.6,1154.3" fill="#a8a8a8" stroke="none" stroke-width="0" stroke-linejoin="round" />
<polygon points="1202.0,1089.0 1218.9,1081.6 1235.7,1089.0 1243.0,1126.3 1233.8,1141.2 1218.9,1137.5 1202.0,1104.0" fill="#9c9c9c" stroke="#3a3a3a" stroke-width="1.2" stroke-linejoin="round" />
<line x1="1208.0" y1="1098.0" x2="1225.0" y2="1135.0" stroke="#3a3a3a" stroke-width="2.5" stroke-linecap="round"/>
<ellipse cx="1226.0" cy="1106.0" rx="6.0" ry="10.0" transform="rotate(20.0 1226.0 1106.0)" fill="#cfcfcf" stroke="none" stroke-width="0" />
<polygon points="1211.4,1150.6 1240.0,1137.0 1246.0,1147.0 1218.9,1163.6" fill="#c2c2c2" stroke="#555" stroke-width="1" stroke-linejoin="round" />
<path d="M1462,1005 Q1446,1000 1443,1010 Q1444,1020 1462,1018 L1461,1014 Q1450,1015 1450,1010 Q1452,1006 1461,1009 Z" fill="#7e7e7e" stroke="#666" stroke-width="1" stroke-linejoin="round" />
<polygon points="1464.6,1054.2 1474.9,1031.5 1495.6,1019.0 1510.0,1027.3 1520.4,1031.5 1526.6,1039.7 1525.6,1056.3 1512.2,1064.6 1495.6,1056.3 1483.2,1064.6 1470.8,1064.6" fill="#9b9b9b" stroke="#6a6a6a" stroke-width="1.2" stroke-linejoin="round" />
<ellipse cx="1514.0" cy="1046.0" rx="9.0" ry="13.0" transform="rotate(20.0 1514.0 1046.0)" fill="#8a8a8a" stroke="#666" stroke-width="1" />
<ellipse cx="1515.0" cy="1046.0" rx="3.0" ry="5.0" transform="rotate(20.0 1515.0 1046.0)" fill="#c8c8c8" stroke="none" stroke-width="0" />
<line x1="1485.0" y1="1032.0" x2="1505.0" y2="1042.0" stroke="#b5b5b5" stroke-width="6.0" stroke-linecap="round"/>
<ellipse cx="1396.0" cy="1086.4" rx="10.5" ry="15.0" transform="rotate(25.0 1396.0 1086.4)" fill="none" stroke="#8e8e8e" stroke-width="3.2" />
<polygon points="1417.0,1091.5 1429.4,1089.4 1474.9,1112.2 1479.0,1118.4 1493.5,1126.7 1497.7,1137.0 1493.5,1149.5 1483.2,1151.6 1458.3,1141.2 1419.0,1116.4 1412.8,1104.0" fill="#acacac" stroke="#7a7a7a" stroke-width="1.2" stroke-linejoin="round" />
<line x1="1428.6" y1="1095.6" x2="1422.6" y2="1119.6" stroke="#8a8a8a" stroke-width="2.0" stroke-linecap="round"/>
<line x1="1437.3" y1="1098.7" x2="1431.3" y2="1122.7" stroke="#8a8a8a" stroke-width="2.0" stroke-linecap="round"/>
<line x1="1446.0" y1="1101.8" x2="1440.0" y2="1125.8" stroke="#8a8a8a" stroke-width="2.0" stroke-linecap="round"/>
<ellipse cx="1490.0" cy="1138.0" rx="8.0" ry="12.0" transform="rotate(25.0 1490.0 1138.0)" fill="#c2c2c2" stroke="#888" stroke-width="1" />
<polygon points="1551.5,1114.3 1571.2,1122.6 1570.2,1145.4 1564.0,1151.6 1545.3,1149.5 1543.2,1122.6" fill="#b0b0b0" stroke="#777" stroke-width="1" stroke-linejoin="round" />
<polygon points="1543.2,1122.6 1545.3,1149.5 1528.7,1159.8 1518.4,1174.3 1520.5,1188.8 1537.0,1199.2 1557.7,1201.3 1572.2,1186.8 1577.4,1164.0 1572.2,1153.6 1564.0,1151.6" fill="#a6a6a6" stroke="#6a6a6a" stroke-width="1.2" stroke-linejoin="round" />
<ellipse cx="1557.7" cy="1176.4" rx="14.0" ry="22.0" transform="rotate(20.0 1557.7 1176.4)" fill="#8e8e8e" stroke="#444" stroke-width="1.2" />
<ellipse cx="1558.0" cy="1178.0" rx="6.0" ry="8.0" transform="rotate(20.0 1558.0 1178.0)" fill="#a8a8a8" stroke="none" stroke-width="0" />
<path d="M1680,1165 Q1694,1170 1691,1190 Q1688,1218 1674,1242 Q1658,1265 1640,1265 Q1623,1263 1625,1248 Q1629,1222 1631,1196 Q1634,1186 1650,1178 Z" fill="none" stroke="#7c7c7c" stroke-width="3.8" stroke-linejoin="round" />
<polygon points="1703.2,1253.0 1718.2,1211.7 1727.8,1202.9 1741.0,1210.0 1767.4,1193.2 1774.5,1195.0 1793.0,1229.3 1800.0,1241.6 1795.6,1253.0 1786.8,1268.0 1778.0,1285.6 1775.4,1303.2 1764.8,1320.8 1747.2,1326.0 1732.2,1335.0 1720.0,1340.0 1709.4,1330.0 1709.4,1313.8 1702.3,1303.2 1702.3,1281.2" fill="#b9b9b9" stroke="#555" stroke-width="1.2" stroke-linejoin="round" />
<polygon points="1703.2,1253.0 1718.2,1211.7 1727.8,1202.9 1741.0,1210.0 1767.4,1193.2 1774.5,1195.0 1793.0,1229.3 1776.2,1246.9 1738.4,1281.2" fill="#c3c3c3" stroke="none" stroke-width="0" stroke-linejoin="round" />
<polygon points="1703.2,1253.0 1738.4,1281.2 1735.8,1293.5 1703.2,1281.2" fill="#979797" stroke="none" stroke-width="0" stroke-linejoin="round" />
<polygon points="1793.0,1229.3 1800.0,1241.6 1795.6,1253.0 1786.8,1268.0 1776.2,1276.8 1738.4,1282.0" fill="#a2a2a2" stroke="none" stroke-width="0" stroke-linejoin="round" />
<polygon points="1702.3,1281.2 1735.8,1293.5 1776.0,1277.0 1778.0,1285.6 1775.4,1303.2 1764.8,1320.8 1747.2,1326.0 1729.6,1322.6 1709.4,1313.8 1702.3,1303.2" fill="#bebebe" stroke="none" stroke-width="0" stroke-linejoin="round" />
<ellipse cx="1752.0" cy="1303.0" rx="20.0" ry="22.0" transform="rotate(0.0 1752.0 1303.0)" fill="#b4b4b4" stroke="none" stroke-width="0" />
<polyline points="1738.4,1282.0 1775.4,1246.0 1779.8,1241.6 1791.2,1232.0" fill="none" stroke="#1e1e1e" stroke-width="4.2" stroke-linejoin="round" />
<path d="M1703,1305 Q1710,1316 1716.4,1317.3 Q1730,1326 1747.2,1326 Q1766,1322 1772,1305 Q1778,1292 1778,1281" fill="none" stroke="#202020" stroke-width="3.5" stroke-linejoin="round" />
<polyline points="1727.8,1203.5 1741.0,1210.0" fill="none" stroke="#333" stroke-width="2.5" stroke-linejoin="round" />
<polyline points="1726.0,1222.0 1736.0,1229.0" fill="none" stroke="#333" stroke-width="2.5" stroke-linejoin="round" />
<polyline points="1767.4,1193.2 1774.5,1195.0 1793.0,1229.3" fill="none" stroke="#333" stroke-width="2.5" stroke-linejoin="round" />
<polygon points="1709.4,1317.3 1732.2,1322.0 1732.2,1336.0 1722.0,1340.2 1711.0,1334.0" fill="#b0b0b0" stroke="#777" stroke-width="1" stroke-linejoin="round" />
<line x1="1826.0" y1="1271.0" x2="1841.0" y2="1280.0" stroke="#a6a6a6" stroke-width="8.0" stroke-linecap="round"/>
<ellipse cx="1844.0" cy="1282.0" rx="6.5" ry="10.0" transform="rotate(30.0 1844.0 1282.0)" fill="#b0b0b0" stroke="#8a8a8a" stroke-width="1" />
<line x1="1867.0" y1="1321.0" x2="1882.0" y2="1330.0" stroke="#a6a6a6" stroke-width="8.0" stroke-linecap="round"/>
<ellipse cx="1885.0" cy="1332.0" rx="6.5" ry="10.0" transform="rotate(30.0 1885.0 1332.0)" fill="#b0b0b0" stroke="#8a8a8a" stroke-width="1" />
<line x1="1821.0" y1="1381.0" x2="1836.0" y2="1390.0" stroke="#a6a6a6" stroke-width="8.0" stroke-linecap="round"/>
<ellipse cx="1839.0" cy="1392.0" rx="6.5" ry="10.0" transform="rotate(30.0 1839.0 1392.0)" fill="#b0b0b0" stroke="#8a8a8a" stroke-width="1" />
<ellipse cx="1128.0" cy="1188.0" rx="11.0" ry="6.0" transform="rotate(30.0 1128.0 1188.0)" fill="#b0b0b0" stroke="#888" stroke-width="1" />
<line x1="1108.0" y1="1223.0" x2="1082.0" y2="1268.0" stroke="#b6b6b6" stroke-width="11.0" stroke-linecap="round"/>
<polygon points="1073.4,1268.0 1082.0,1262.0 1093.5,1270.0 1090.0,1279.7 1077.0,1279.0" fill="#bdbdbd" stroke="#8a8a8a" stroke-width="1" stroke-linejoin="round" />
<path d="M1010,1322 Q1020,1309 1038,1309 Q1055,1312 1057.8,1325 L1056,1335 Q1035,1336 1010,1328 Z" fill="#8f8f8f" stroke="#555" stroke-width="1.2" stroke-linejoin="round" />
<path d="M1016,1326 Q1036,1330 1055,1331 L1055,1336 Q1035,1336 1012,1330 Z" fill="#b8b8b8" stroke="none" stroke-width="0" stroke-linejoin="round" />
<ellipse cx="1035.0" cy="1318.0" rx="7.0" ry="5.0" transform="rotate(0.0 1035.0 1318.0)" fill="#d9d9d9" stroke="none" stroke-width="0" />
<polygon points="1021.0,1354.0 1041.5,1353.0 1039.0,1383.0 1016.0,1383.0" fill="#b2b2b2" stroke="#888" stroke-width="1" stroke-linejoin="round" />
<ellipse cx="1027.0" cy="1384.0" rx="14.0" ry="9.3" transform="rotate(0.0 1027.0 1384.0)" fill="#a2a2a2" stroke="#5a5a5a" stroke-width="1.5" />
<line x1="814.0" y1="1240.0" x2="848.0" y2="1222.0" stroke="#a0a0a0" stroke-width="10.0" stroke-linecap="round"/>
<ellipse cx="808.7" cy="1243.7" rx="8.0" ry="9.0" transform="rotate(0.0 808.7 1243.7)" fill="#a6a6a6" stroke="#888" stroke-width="1" />
<line x1="869.0" y1="1257.0" x2="911.0" y2="1234.0" stroke="#a0a0a0" stroke-width="10.0" stroke-linecap="round"/>
<ellipse cx="863.3" cy="1260.4" rx="8.0" ry="9.0" transform="rotate(0.0 863.3 1260.4)" fill="#a6a6a6" stroke="#888" stroke-width="1" />
<line x1="920.0" y1="1185.0" x2="936.0" y2="1210.0" stroke="#9c9c9c" stroke-width="6.0" stroke-linecap="round"/>
<ellipse cx="918.7" cy="1179.4" rx="8.0" ry="9.0" transform="rotate(0.0 918.7 1179.4)" fill="#a8a8a8" stroke="#888" stroke-width="1" />
<ellipse cx="939.8" cy="1215.5" rx="8.0" ry="9.0" transform="rotate(0.0 939.8 1215.5)" fill="#a8a8a8" stroke="#888" stroke-width="1" />
<path d="M61.7,1319.5 Q85,1262 130,1217 Q172,1182 222,1179.5 Q246,1179 262,1183 L309,1158 Q327,1152 335,1167 Q340,1182 338,1245 Q336,1273 318,1282 Q300,1290 283,1282 L226,1253 Q204,1245 178,1252 Q150,1262 130,1287 Q114,1308 104,1327 Q97,1333 84,1331 L68,1326 Q58,1325 61.7,1319.5 Z" fill="#878787" stroke="#6a6a6a" stroke-width="1.2" stroke-linejoin="round" />
<path d="M62,1318 Q85,1262 130,1217 Q172,1182 222,1179.5" fill="none" stroke="#a3a3a3" stroke-width="3" stroke-linejoin="round" />
<ellipse cx="305.0" cy="1243.0" rx="9.5" ry="13.5" transform="rotate(35.0 305.0 1243.0)" fill="#f4f4f4" stroke="#555" stroke-width="1.5" />
<line x1="85.0" y1="1297.0" x2="103.0" y2="1308.0" stroke="#ececec" stroke-width="3.5" stroke-linecap="round"/>
<line x1="117.0" y1="1255.0" x2="129.0" y2="1274.0" stroke="#ececec" stroke-width="3.5" stroke-linecap="round"/>
<line x1="151.0" y1="1223.0" x2="158.0" y2="1250.0" stroke="#9c9c9c" stroke-width="3.5" stroke-linecap="round"/>
<line x1="192.0" y1="1200.0" x2="187.0" y2="1234.0" stroke="#9c9c9c" stroke-width="3.5" stroke-linecap="round"/>
<defs><linearGradient id="hg" x1="0" y1="0" x2="0" y2="1"><stop offset="0" stop-color="#a9a9a9"/><stop offset="0.45" stop-color="#8c8c8c"/><stop offset="1" stop-color="#6a6a6a"/></linearGradient></defs>
<rect x="136.5" y="1383.4" width="602.2" height="25.5" fill="url(#hg)"/>
<text x="279" y="1404" font-size="15" font-weight="bold" fill="#e9e9e9" textLength="281" lengthAdjust="spacingAndGlyphs">SHIMANO  SIS   OT-RS900</text>
<path d="M1731,590 L1731,640 Q1733,660 1765,661 Q1798,660 1800,640 L1800,590 Z" fill="#f2f2f2" stroke="#2e2e2e" stroke-width="2.5" stroke-linejoin="round" />
<ellipse cx="1765.0" cy="590.0" rx="34.5" ry="13.0" transform="rotate(0.0 1765.0 590.0)" fill="#dcdcdc" stroke="#555" stroke-width="2" />
<ellipse cx="1765.0" cy="577.0" rx="29.0" ry="19.0" transform="rotate(0.0 1765.0 577.0)" fill="#fbfbfb" stroke="#2e2e2e" stroke-width="2.5" />
<polygon points="1743.0,617.0 1788.0,617.0 1788.0,632.0 1743.0,632.0" fill="#262626" stroke="none" stroke-width="0" stroke-linejoin="round" />
<line x1="1745" y1="640" x2="1772" y2="640" stroke="#a8a8a8" stroke-width="1.2"/>
<line x1="1745" y1="645" x2="1772" y2="645" stroke="#a8a8a8" stroke-width="1.2"/>
<line x1="1745" y1="650" x2="1772" y2="650" stroke="#a8a8a8" stroke-width="1.2"/>
<circle cx="458.0" cy="356.0" r="14.6" fill="#fbfbfb" stroke="#5a5a5a" stroke-width="2.3"/>
<text x="458.0" y="365.2" font-size="25.5" font-weight="bold" text-anchor="middle" textLength="17.5" lengthAdjust="spacingAndGlyphs" fill="#111">19</text>
<circle cx="183.0" cy="590.0" r="14.6" fill="#fbfbfb" stroke="#5a5a5a" stroke-width="2.3"/>
<text x="183.0" y="599.2" font-size="25.5" font-weight="bold" text-anchor="middle" textLength="17.5" lengthAdjust="spacingAndGlyphs" fill="#111">20</text>
<circle cx="344.0" cy="998.0" r="14.6" fill="#fbfbfb" stroke="#5a5a5a" stroke-width="2.3"/>
<text x="344.0" y="1007.2" font-size="25.5" font-weight="bold" text-anchor="middle" textLength="17.5" lengthAdjust="spacingAndGlyphs" fill="#111">21</text>
<circle cx="756.5" cy="497.0" r="14.6" fill="#fbfbfb" stroke="#5a5a5a" stroke-width="2.3"/>
<text x="756.5" y="506.2" font-size="25.5" font-weight="bold" text-anchor="middle" textLength="17.5" lengthAdjust="spacingAndGlyphs" fill="#111">18</text>
<circle cx="899.0" cy="718.0" r="14.6" fill="#fbfbfb" stroke="#5a5a5a" stroke-width="2.3"/>
<text x="899.0" y="727.2" font-size="25.5" font-weight="bold" text-anchor="middle" textLength="17.5" lengthAdjust="spacingAndGlyphs" fill="#111">17</text>
<circle cx="933.0" cy="506.0" r="14.6" fill="#fbfbfb" stroke="#5a5a5a" stroke-width="2.3"/>
<text x="933.0" y="515.2" font-size="25.5" font-weight="bold" text-anchor="middle" textLength="17.5" lengthAdjust="spacingAndGlyphs" fill="#111">11</text>
<circle cx="955.0" cy="678.0" r="14.6" fill="#fbfbfb" stroke="#5a5a5a" stroke-width="2.3"/>
<text x="955.0" y="687.2" font-size="25.5" font-weight="bold" text-anchor="middle" textLength="17.5" lengthAdjust="spacingAndGlyphs" fill="#111">12</text>
<circle cx="1058.0" cy="810.5" r="14.6" fill="#fbfbfb" stroke="#5a5a5a" stroke-width="2.3"/>
<text x="1058.0" y="819.7" font-size="25.5" font-weight="bold" text-anchor="middle" textLength="17.5" lengthAdjust="spacingAndGlyphs" fill="#111">16</text>
<circle cx="1313.5" cy="770.6" r="14.6" fill="#fbfbfb" stroke="#5a5a5a" stroke-width="2.3"/>
<text x="1313.5" y="779.8" font-size="25.5" font-weight="bold" text-anchor="middle" textLength="17.5" lengthAdjust="spacingAndGlyphs" fill="#111">10</text>
<circle cx="1472.0" cy="473.5" r="14.6" fill="#fbfbfb" stroke="#5a5a5a" stroke-width="2.3"/>
<text x="1472.0" y="482.7" font-size="25.5" font-weight="bold" text-anchor="middle" textLength="10.0" lengthAdjust="spacingAndGlyphs" fill="#111">1</text>
<circle cx="1502.0" cy="569.7" r="14.6" fill="#fbfbfb" stroke="#5a5a5a" stroke-width="2.3"/>
<text x="1502.0" y="578.9" font-size="25.5" font-weight="bold" text-anchor="middle" textLength="10.0" lengthAdjust="spacingAndGlyphs" fill="#111">2</text>
<circle cx="1765.0" cy="519.0" r="14.6" fill="#fbfbfb" stroke="#5a5a5a" stroke-width="2.3"/>
<text x="1765.0" y="528.2" font-size="25.5" font-weight="bold" text-anchor="middle" textLength="17.5" lengthAdjust="spacingAndGlyphs" fill="#111">22</text>
<circle cx="1543.3" cy="901.0" r="14.6" fill="#fbfbfb" stroke="#5a5a5a" stroke-width="2.3"/>
<text x="1543.3" y="910.2" font-size="25.5" font-weight="bold" text-anchor="middle" textLength="10.0" lengthAdjust="spacingAndGlyphs" fill="#111">7</text>
<circle cx="1511.2" cy="967.7" r="14.6" fill="#fbfbfb" stroke="#5a5a5a" stroke-width="2.3"/>
<text x="1511.2" y="976.9" font-size="25.5" font-weight="bold" text-anchor="middle" textLength="10.0" lengthAdjust="spacingAndGlyphs" fill="#111">8</text>
<circle cx="1362.0" cy="1212.6" r="14.6" fill="#fbfbfb" stroke="#5a5a5a" stroke-width="2.3"/>
<text x="1362.0" y="1221.8" font-size="25.5" font-weight="bold" text-anchor="middle" textLength="10.0" lengthAdjust="spacingAndGlyphs" fill="#111">9</text>
<circle cx="1590.8" cy="1328.2" r="14.6" fill="#fbfbfb" stroke="#5a5a5a" stroke-width="2.3"/>
<text x="1590.8" y="1337.4" font-size="25.5" font-weight="bold" text-anchor="middle" textLength="10.0" lengthAdjust="spacingAndGlyphs" fill="#111">6</text>
<circle cx="1688.6" cy="1374.8" r="14.6" fill="#fbfbfb" stroke="#5a5a5a" stroke-width="2.3"/>
<text x="1688.6" y="1384.0" font-size="25.5" font-weight="bold" text-anchor="middle" textLength="10.0" lengthAdjust="spacingAndGlyphs" fill="#111">5</text>
<circle cx="1654.8" cy="1445.8" r="14.6" fill="#fbfbfb" stroke="#5a5a5a" stroke-width="2.3"/>
<text x="1654.8" y="1455.0" font-size="25.5" font-weight="bold" text-anchor="middle" textLength="10.0" lengthAdjust="spacingAndGlyphs" fill="#111">3</text>
<circle cx="1794.6" cy="1444.6" r="14.6" fill="#fbfbfb" stroke="#5a5a5a" stroke-width="2.3"/>
<text x="1794.6" y="1453.8" font-size="25.5" font-weight="bold" text-anchor="middle" textLength="10.0" lengthAdjust="spacingAndGlyphs" fill="#111">4</text>
<circle cx="1233.0" cy="1276.0" r="14.6" fill="#fbfbfb" stroke="#5a5a5a" stroke-width="2.3"/>
<text x="1233.0" y="1285.2" font-size="25.5" font-weight="bold" text-anchor="middle" textLength="17.5" lengthAdjust="spacingAndGlyphs" fill="#111">13</text>
<circle cx="1187.5" cy="1349.6" r="14.6" fill="#fbfbfb" stroke="#5a5a5a" stroke-width="2.3"/>
<text x="1187.5" y="1358.8" font-size="25.5" font-weight="bold" text-anchor="middle" textLength="17.5" lengthAdjust="spacingAndGlyphs" fill="#111">14</text>
<circle cx="822.8" cy="1112.6" r="14.6" fill="#fbfbfb" stroke="#5a5a5a" stroke-width="2.3"/>
<text x="822.8" y="1121.8" font-size="25.5" font-weight="bold" text-anchor="middle" textLength="17.5" lengthAdjust="spacingAndGlyphs" fill="#111">15</text>
<circle cx="183.9" cy="1124.8" r="14.6" fill="#fbfbfb" stroke="#5a5a5a" stroke-width="2.3"/>
<text x="183.9" y="1134.0" font-size="25.5" font-weight="bold" text-anchor="middle" textLength="17.5" lengthAdjust="spacingAndGlyphs" fill="#111">23</text>
<circle cx="437.4" cy="1327.5" r="14.6" fill="#fbfbfb" stroke="#5a5a5a" stroke-width="2.3"/>
<text x="437.4" y="1336.7" font-size="25.5" font-weight="bold" text-anchor="middle" textLength="17.5" lengthAdjust="spacingAndGlyphs" fill="#111">24</text>
<text x="519.6" y="458.0" font-size="25.0" font-weight="bold" textLength="42.0" lengthAdjust="spacingAndGlyphs" fill="#1f1f1f" text-anchor="start">11T</text>
<text x="519.6" y="735.6" font-size="25.0" font-weight="bold" textLength="42.0" lengthAdjust="spacingAndGlyphs" fill="#1f1f1f" text-anchor="start">13T</text>
<text x="1721.5" y="488.0" font-size="25.0" font-weight="bold" textLength="86.0" lengthAdjust="spacingAndGlyphs" fill="#1f1f1f" text-anchor="start">Grease</text>
<polygon points="17.0,320.8 30.2,328.4 30.2,343.6 17.0,351.2 3.8,343.6 3.8,328.4" fill="#1b1b1b"/>
<text x="17.0" y="344.4" font-size="24" font-weight="bold" text-anchor="middle" textLength="10.5" lengthAdjust="spacingAndGlyphs" fill="#f0f0f0">3</text>
<text x="40.4" y="345.2" font-size="24.5" font-weight="bold" textLength="104.0" lengthAdjust="spacingAndGlyphs" fill="#1f1f1f" text-anchor="start">2.5 - 5 N&#183;m</text>
<polygon points="808.0,1014.8 821.2,1022.4 821.2,1037.6 808.0,1045.2 794.8,1037.6 794.8,1022.4" fill="#1b1b1b"/>
<text x="808.0" y="1038.4" font-size="24" font-weight="bold" text-anchor="middle" textLength="10.5" lengthAdjust="spacingAndGlyphs" fill="#f0f0f0">3</text>
<text x="830.0" y="1037.5" font-size="24.5" font-weight="bold" textLength="107.0" lengthAdjust="spacingAndGlyphs" fill="#1f1f1f" text-anchor="start">2.5 - 5 N&#183;m</text>
<polygon points="1269.0,510.0 1282.2,517.6 1282.2,532.8 1269.0,540.4 1255.8,532.8 1255.8,517.6" fill="#1b1b1b"/>
<text x="1269.0" y="533.6" font-size="24" font-weight="bold" text-anchor="middle" textLength="10.5" lengthAdjust="spacingAndGlyphs" fill="#f0f0f0">5</text>
<text x="1287.7" y="533.5" font-size="24.5" font-weight="bold" textLength="98.3" lengthAdjust="spacingAndGlyphs" fill="#1f1f1f" text-anchor="start">8 - 10 N&#183;m</text>
<polygon points="1578.9,774.5 1592.1,782.1 1592.1,797.3 1578.9,804.9 1565.7,797.3 1565.7,782.1" fill="#1b1b1b"/>
<text x="1578.9" y="798.1" font-size="24" font-weight="bold" text-anchor="middle" textLength="10.5" lengthAdjust="spacingAndGlyphs" fill="#f0f0f0">5</text>
<text x="1598.0" y="798.5" font-size="24.5" font-weight="bold" textLength="98.3" lengthAdjust="spacingAndGlyphs" fill="#1f1f1f" text-anchor="start">8 - 10 N&#183;m</text>
<polygon points="1617.8,1062.8 1631.0,1070.4 1631.0,1085.6 1617.8,1093.2 1604.6,1085.6 1604.6,1070.4" fill="#1b1b1b"/>
<text x="1617.8" y="1086.4" font-size="24" font-weight="bold" text-anchor="middle" textLength="10.5" lengthAdjust="spacingAndGlyphs" fill="#f0f0f0">4</text>
<text x="1638.5" y="1087.4" font-size="24.5" font-weight="bold" textLength="106.5" lengthAdjust="spacingAndGlyphs" fill="#1f1f1f" text-anchor="start">3 - 4.9 N&#183;m</text>
<polygon points="1482.7,1246.3 1495.9,1253.9 1495.9,1269.1 1482.7,1276.7 1469.5,1269.1 1469.5,1253.9" fill="#1b1b1b"/>
<text x="1482.7" y="1269.9" font-size="24" font-weight="bold" text-anchor="middle" textLength="10.5" lengthAdjust="spacingAndGlyphs" fill="#f0f0f0">4</text>
<text x="1502.0" y="1270.0" font-size="24.5" font-weight="bold" textLength="92.5" lengthAdjust="spacingAndGlyphs" fill="#1f1f1f" text-anchor="start">8 - 10 N&#183;m</text>
<polygon points="1873.8,1182.5 1887.0,1190.1 1887.0,1205.3 1873.8,1212.9 1860.6,1205.3 1860.6,1190.1" fill="#1b1b1b"/>
<text x="1873.8" y="1206.1" font-size="24" font-weight="bold" text-anchor="middle" textLength="10.5" lengthAdjust="spacingAndGlyphs" fill="#f0f0f0">2</text>
<text x="1894.7" y="1207.0" font-size="24.5" font-weight="bold" textLength="103.3" lengthAdjust="spacingAndGlyphs" fill="#1f1f1f" text-anchor="start">1 - 1.5 N&#183;m</text>
<polygon points="1079.6,1415.1 1092.8,1422.7 1092.8,1437.9 1079.6,1445.5 1066.4,1437.9 1066.4,1422.7" fill="#1b1b1b"/>
<text x="1079.6" y="1438.7" font-size="24" font-weight="bold" text-anchor="middle" textLength="10.5" lengthAdjust="spacingAndGlyphs" fill="#f0f0f0">4</text>
<text x="1101.3" y="1438.9" font-size="24.5" font-weight="bold" textLength="87.7" lengthAdjust="spacingAndGlyphs" fill="#1f1f1f" text-anchor="start">6 - 7 N&#183;m</text>
<rect x="772.8" y="849.7" width="27.0" height="29.0" rx="3.5" fill="none" stroke="#5a5a5a" stroke-width="2.4"/>
<ellipse cx="786.3" cy="857.7" rx="4.2" ry="3.8" fill="none" stroke="#444" stroke-width="1.8"/>
<line x1="783.3" y1="857.7" x2="789.3" y2="857.7" stroke="#666" stroke-width="1.4"/>
<text x="786.3" y="874.7" font-size="14" font-weight="bold" fill="#333" text-anchor="middle" textLength="8" lengthAdjust="spacingAndGlyphs">2</text>
<text x="805.4" y="871.5" font-size="24.5" font-weight="bold" textLength="56.2" lengthAdjust="spacingAndGlyphs" fill="#1f1f1f" text-anchor="start">1 N&#183;m</text>
<text x="683.8" y="1298.2" font-size="23.0"  textLength="152.2" lengthAdjust="spacingAndGlyphs" fill="#2a2a2a" text-anchor="start">M4 x 15.4 mm</text>
<text x="750.6" y="1344.0" font-size="23.0"  textLength="154.0" lengthAdjust="spacingAndGlyphs" fill="#2a2a2a" text-anchor="start">M4 x 19.3 mm</text>
<polygon points="32.6,1467.4 45.8,1475.0 45.8,1490.2 32.6,1497.8 19.4,1490.2 19.4,1475.0" fill="#1b1b1b"/>
<text x="32.6" y="1491.0" font-size="24" font-weight="bold" text-anchor="middle" textLength="10.5" lengthAdjust="spacingAndGlyphs" fill="#f0f0f0">2</text>
<text x="62.4" y="1490.2" font-size="21.5" font-weight="bold" textLength="222.7" lengthAdjust="spacingAndGlyphs" fill="#1f1f1f" text-anchor="start">2 mm hexagon wrench</text>
<polygon points="32.6,1511.7 45.8,1519.3 45.8,1534.5 32.6,1542.1 19.4,1534.5 19.4,1519.3" fill="#1b1b1b"/>
<text x="32.6" y="1535.3" font-size="24" font-weight="bold" text-anchor="middle" textLength="10.5" lengthAdjust="spacingAndGlyphs" fill="#f0f0f0">3</text>
<text x="62.4" y="1534.5" font-size="21.5" font-weight="bold" textLength="222.7" lengthAdjust="spacingAndGlyphs" fill="#1f1f1f" text-anchor="start">3 mm hexagon wrench</text>
<polygon points="32.6,1556.0 45.8,1563.6 45.8,1578.8 32.6,1586.4 19.4,1578.8 19.4,1563.6" fill="#1b1b1b"/>
<text x="32.6" y="1579.6" font-size="24" font-weight="bold" text-anchor="middle" textLength="10.5" lengthAdjust="spacingAndGlyphs" fill="#f0f0f0">4</text>
<text x="62.4" y="1578.8" font-size="21.5" font-weight="bold" textLength="222.7" lengthAdjust="spacingAndGlyphs" fill="#1f1f1f" text-anchor="start">4 mm hexagon wrench</text>
<polygon points="32.6,1600.3 45.8,1607.9 45.8,1623.1 32.6,1630.7 19.4,1623.1 19.4,1607.9" fill="#1b1b1b"/>
<text x="32.6" y="1623.9" font-size="24" font-weight="bold" text-anchor="middle" textLength="10.5" lengthAdjust="spacingAndGlyphs" fill="#f0f0f0">5</text>
<text x="62.4" y="1623.1" font-size="21.5" font-weight="bold" textLength="222.7" lengthAdjust="spacingAndGlyphs" fill="#1f1f1f" text-anchor="start">5 mm hexagon wrench</text>
<rect x="18.6" y="1648.5" width="29.0" height="29.0" rx="3.5" fill="none" stroke="#5a5a5a" stroke-width="2.4"/>
<ellipse cx="33.1" cy="1656.5" rx="4.2" ry="3.8" fill="none" stroke="#444" stroke-width="1.8"/>
<line x1="30.1" y1="1656.5" x2="36.1" y2="1656.5" stroke="#666" stroke-width="1.4"/>
<text x="33.1" y="1673.5" font-size="14" font-weight="bold" fill="#333" text-anchor="middle" textLength="8" lengthAdjust="spacingAndGlyphs">2</text>
<text x="62.4" y="1669.9" font-size="21.5" font-weight="bold" textLength="277.6" lengthAdjust="spacingAndGlyphs" fill="#1f1f1f" text-anchor="start">Cross head screwdriver [#2]</text>
</svg>
</body></html>
